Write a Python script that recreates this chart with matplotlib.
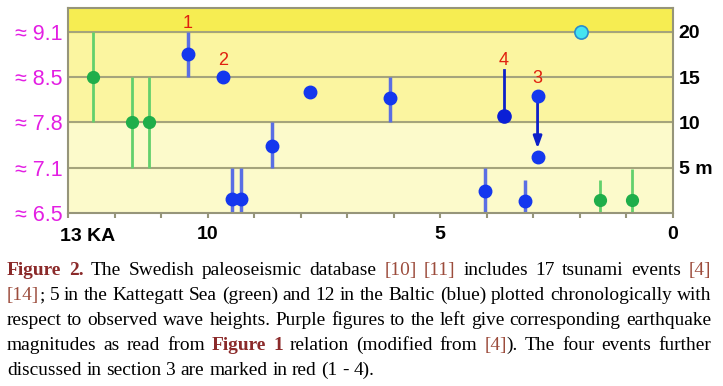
import matplotlib
matplotlib.use('Agg')
import matplotlib.pyplot as plt
from matplotlib.transforms import IdentityTransform

# wave height (m) vs age (ka BP)
green_age = [12.46, 11.62, 11.27, 1.57, 0.88]
green_h = [15, 10, 10, 1.45, 1.45]
green_lo = [10, 5, 5, 0, 0]
green_hi = [20, 15, 15, 3.65, 4.9]

blue_age = [10.43, 9.67, 7.80, 8.62, 9.48, 9.29, 6.09, 4.04, 3.19]
blue_h = [17.6, 15, 13.4, 7.4, 1.55, 1.55, 12.7, 2.4, 1.3]
blue_lo = [15, 15, 13.4, 5, 0, 0, 10, 0, 0]
blue_hi = [20, 15, 13.4, 10, 5, 5, 15, 5, 3.7]

ev4_age, ev4_h, ev4_top = 3.63, 10.7, 15.8
ev3_age, ev3_from, ev3_to = 2.91, 12.9, 6.2

cyan_age = [1.98]
cyan_h = [20]

ev_labels = ['1', '2', '3', '4']
ev_label_age = [10.43, 9.67, 2.91, 3.63]
ev_label_h = [20.9, 16.9, 14.9, 16.9]

height_ticks = [0, 5, 10, 15, 20]
magnitude_labels = ['≈ 6.5', '≈ 7.1', '≈ 7.8', '≈ 8.5', '≈ 9.1']
right_ticks = [5, 10, 15, 20]
right_labels = ['5 m', '10', '15', '20']
age_ticks = list(range(0, 14))
age_labels = {10: '10', 5: '5', 0: '0'}

SANS = ['Liberation Sans', 'DejaVu Sans']
GRID = '#a5a47c'

fig = plt.figure(figsize=(7.23, 3.86), dpi=100)
ax = fig.add_axes([68 / 723, 173 / 386, 605 / 723, 205 / 386])
ymax = 22.65
ax.set_xlim(13, 0)
ax.set_ylim(0, ymax)

# background bands
ax.axhspan(0, 10, color='#fcfacb', zorder=0)
ax.axhspan(10, 20, color='#fbf5a0', zorder=0)
ax.axhspan(20, ymax, color='#f6ed52', zorder=0)
for h in right_ticks:
    ax.axhline(h, color=GRID, lw=1.5, zorder=1)

# Kattegatt (green)
ax.errorbar(green_age, green_h,
            yerr=[[h - l for h, l in zip(green_h, green_lo)],
                  [u - h for h, u in zip(green_h, green_hi)]],
            fmt='o', ms=8.5, color='#1fae4a', ecolor='#62d06c', elinewidth=2,
            capsize=0, zorder=4)

# Baltic (blue)
ax.errorbar(blue_age, blue_h,
            yerr=[[h - l for h, l in zip(blue_h, blue_lo)],
                  [u - h for h, u in zip(blue_h, blue_hi)]],
            fmt='o', ms=9, color='#1437ee', ecolor='#5a6ee4', elinewidth=2.5,
            capsize=0, zorder=4)

# event 4 and 3
ax.plot([ev4_age, ev4_age], [ev4_top, ev4_h], color='#0d20c8', lw=2, zorder=4)
ax.plot([ev4_age], [ev4_h], 'o', ms=9.5, color='#0a1fd6', zorder=5)
ax.plot([ev3_age, ev3_age], [ev3_from, ev3_to], 'o', ms=9, color='#1437ee', zorder=5)
ax.annotate('', xy=(ev3_age, ev3_to), xytext=(ev3_age, ev3_from),
            arrowprops=dict(arrowstyle='-|>,head_length=0.7,head_width=0.25',
                            color='#0d20c8', lw=2, shrinkA=5, shrinkB=6),
            zorder=4)

ax.plot(cyan_age, cyan_h, 'o', ms=9.5, mfc='#44e4f0', mec='#2a8ccc', mew=1.2, zorder=5)

for t, a, h in zip(ev_labels, ev_label_age, ev_label_h):
    ax.text(a, h, t, color='#e0200f', fontsize=13, family=SANS,
            ha='center', va='center', zorder=6)

# axes styling
for s in ax.spines.values():
    s.set_color('#96957a')
    s.set_linewidth(1.5)
    s.set_zorder(6)

ax.set_xticks(age_ticks)
ax.set_xticklabels([age_labels.get(t, '') for t in age_ticks],
                   fontsize=14, fontweight='bold', family=SANS)
ax.tick_params(axis='x', direction='out', length=3.5, width=1.5,
               color='#96957a', pad=6)
ax.annotate('13 KA', xy=(13, 0), xycoords=('data', 'axes fraction'),
            xytext=(14, -17), textcoords='offset points',
            ha='center', va='center', fontsize=14, fontweight='bold', family=SANS)

ax.set_yticks(height_ticks)
ax.set_yticklabels(magnitude_labels, fontsize=15.5, color='#e31ee3', family=SANS)
ax.tick_params(axis='y', length=0, pad=4)

ax2 = ax.twinx()
ax2.set_ylim(0, ymax)
ax2.set_yticks(right_ticks)
ax2.set_yticklabels(right_labels, fontsize=14, fontweight='bold', family=SANS)
ax2.tick_params(axis='y', length=0, pad=4)
for s in ax2.spines.values():
    s.set_visible(False)

# caption, justified word by word
STYLES = {
    'txt': dict(color='black'),
    'fig': dict(color='#8b2a2a', fontweight='bold'),
    'ref': dict(color='#9c4c3c'),
}
caption = [
    [('Figure 2.', 'fig'), (' The Swedish paleoseismic database ', 'txt'), ('[10]', 'ref'),
     (' ', 'txt'), ('[11]', 'ref'), (' includes 17 tsunami events ', 'txt'), ('[4]', 'ref')],
    [('[14]', 'ref'), ('; 5 in the Kattegatt Sea (green) and 12 in the Baltic (blue) '
                       'plotted chronologically with', 'txt')],
    [('respect to observed wave heights. Purple figures to the left give '
      'corresponding earthquake', 'txt')],
    [('magnitudes as read from ', 'txt'), ('Figure 1', 'fig'),
     (' relation (modified from ', 'txt'), ('[4]', 'ref'),
     ('). The four events further', 'txt')],
    [('discussed in section 3 are marked in red (1 - 4).', 'txt')],
]
baselines = [275, 300, 325, 350, 375]
x_left, x_right = 7, 711
cap_size = 12

renderer = fig.canvas.get_renderer()


def to_words(line):
    words = [[]]
    for text, st in line:
        parts = text.split(' ')
        for i, p in enumerate(parts):
            if i > 0:
                words.append([])
            if p:
                words[-1].append((p, st))
    return [w for w in words if w]


lines = []
for line, base in zip(caption, baselines):
    drawn = []
    for w in to_words(line):
        drawn.append([fig.text(0, 386 - base, txt, transform=IdentityTransform(),
                               fontsize=cap_size, family='Liberation Serif',
                               ha='left', va='baseline', **STYLES[st])
                      for txt, st in w])
    lines.append(drawn)


def measure(size):
    sp = size * 0.25 * 100 / 72
    worst = 0
    for drawn in lines[:-1]:
        total = sum(t.get_window_extent(renderer).width for p in drawn for t in p)
        worst = max(worst, total + sp * (len(drawn) - 1))
    return worst


# grow the font until the fullest line just fits the column
natural = measure(cap_size)
cap_size = cap_size * (x_right - x_left) / natural * 0.995
for drawn in lines:
    for p in drawn:
        for t in p:
            t.set_fontsize(cap_size)

space = cap_size * 0.25 * 100 / 72
for n, drawn in enumerate(lines):
    widths = [[t.get_window_extent(renderer).width for t in p] for p in drawn]
    total = sum(sum(w) for w in widths)
    last = n == len(lines) - 1
    gap = space if last else (x_right - x_left - total) / (len(drawn) - 1)
    x = x_left
    for p, ws in zip(drawn, widths):
        for t, wd in zip(p, ws):
            t.set_x(x)
            x += wd
        x += gap

fig.savefig('out.png', dpi=100)
